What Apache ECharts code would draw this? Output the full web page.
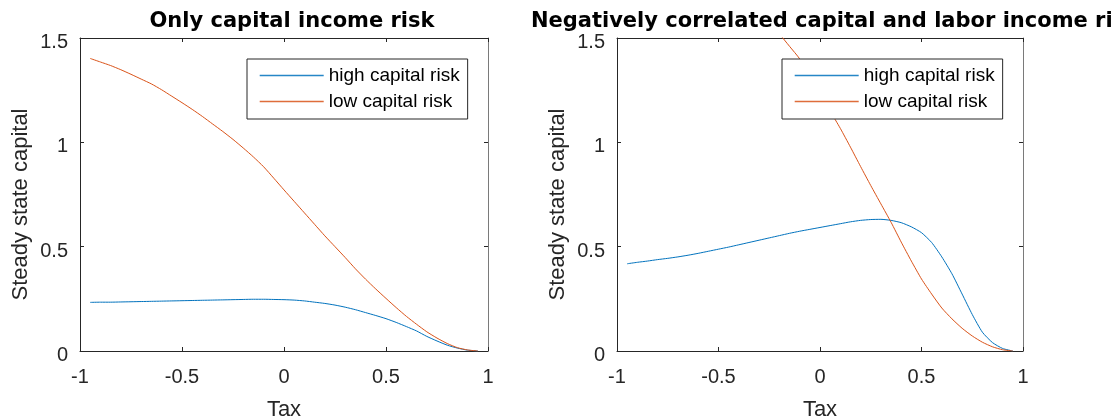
<!DOCTYPE html>
<html><head><meta charset="utf-8">
<script src="https://cdn.jsdelivr.net/npm/echarts@6/dist/echarts.min.js"></script>
<style>html,body{margin:0;padding:0;background:#fff}#c{width:1111px;height:416px}</style>
</head><body><div id="c"></div>
<script>
// ---- data ----
const tax = [-0.95,-0.9,-0.85,-0.8,-0.75,-0.7,-0.65,-0.6,-0.55,-0.5,-0.45,-0.4,-0.35,-0.3,-0.25,-0.2,-0.15,-0.1,-0.05,0,
  0.05,0.1,0.15,0.2,0.25,0.3,0.35,0.4,0.45,0.5,0.55,0.6,0.65,0.7,0.75,0.8,0.85,0.9,0.95];
// Left panel: only capital income risk
const leftHigh = [0.233,0.234,0.234,0.235,0.236,0.237,0.238,0.239,0.240,0.241,0.242,0.243,0.244,0.245,0.246,0.247,0.248,0.248,0.247,0.246,
  0.244,0.240,0.234,0.228,0.220,0.210,0.198,0.184,0.170,0.155,0.137,0.117,0.096,0.070,0.048,0.028,0.014,0.004,0];
const leftLow = [1.402,1.385,1.368,1.348,1.326,1.303,1.280,1.252,1.221,1.190,1.158,1.124,1.088,1.052,1.014,0.973,0.930,0.883,0.828,0.772,
  0.717,0.662,0.607,0.552,0.500,0.448,0.394,0.344,0.297,0.252,0.208,0.166,0.128,0.092,0.062,0.036,0.016,0.005,0];
// Right panel: negatively correlated capital and labor income risk
const rightHigh = [0.418,0.425,0.431,0.438,0.444,0.451,0.459,0.468,0.478,0.488,0.498,0.509,0.520,0.531,0.542,0.553,0.564,0.574,0.583,0.592,
  0.601,0.610,0.619,0.626,0.630,0.631,0.626,0.615,0.595,0.567,0.520,0.451,0.370,0.273,0.175,0.090,0.040,0.012,0];
const rightLow = [null,null,null,null,null,null,null,null,null,null,null,null,null,1.64,1.58,1.52,1.46,1.40,1.315,1.231,
  1.150,1.067,0.977,0.884,0.793,0.705,0.617,0.522,0.431,0.345,0.273,0.206,0.154,0.109,0.072,0.042,0.020,0.006,0];
const seriesNames = ['high capital risk','low capital risk'];
const titles = ['Only capital income risk','Negatively correlated capital and labor income risk'];
const xTickValues = [-1,-0.5,0,0.5,1];
const xTickLabels = ['-1','-0.5','0','0.5','1'];
const yTickValues = [0,0.5,1,1.5];
const yTickLabels = ['0','0.5','1','1.5'];
const xName = 'Tax';
const yName = 'Steady state capital';

// ---- styling ----
const FONT = "'Liberation Sans', Arial, sans-serif";
const AX = '#262626';
const COLORS = ['#0072BD', '#D95319'];
const grids = [
  {left: 80, top: 38, width: 408, height: 313},
  {left: 617, top: 38, width: 406, height: 313}
];
function lab(vals, labs){ return v => { const i = vals.findIndex(t => Math.abs(t - v) < 1e-9); return i >= 0 ? labs[i] : ''; }; }
const lineSt = {show: true, onZero: false, lineStyle: {color: AX, width: 1}};
const tickSt = {show: true, inside: true, length: 4, lineStyle: {color: AX, width: 1}};

const xAxis = [], yAxis = [];
grids.forEach((g, gi) => {
  xAxis.push({type: 'value', gridIndex: gi, position: 'bottom', min: -1, max: 1, interval: 0.5,
    name: xName, nameLocation: 'middle', nameGap: 48,
    nameTextStyle: {fontFamily: FONT, fontSize: 22, color: AX},
    axisLine: lineSt, axisTick: tickSt, splitLine: {show: false},
    axisLabel: {margin: 16, fontFamily: FONT, fontSize: 20, color: AX, showMinLabel: true, showMaxLabel: true,
      formatter: lab(xTickValues, xTickLabels)}});
  xAxis.push({type: 'value', gridIndex: gi, position: 'top', min: -1, max: 1, interval: 0.5,
    axisLine: lineSt, axisTick: tickSt, splitLine: {show: false}, axisLabel: {show: false}});
  yAxis.push({type: 'value', gridIndex: gi, position: 'left', min: 0, max: 1.5, interval: 0.5,
    name: yName, nameLocation: 'middle', nameGap: 48,
    nameTextStyle: {fontFamily: FONT, fontSize: 22, color: AX, padding: [0, 20, 0, 0]},
    axisLine: lineSt, axisTick: tickSt, splitLine: {show: false},
    axisLabel: {margin: 12, fontFamily: FONT, fontSize: 20, color: AX, verticalAlign: 'top', lineHeight: 9,
      showMinLabel: true, showMaxLabel: true, formatter: lab(yTickValues, yTickLabels)}});
  yAxis.push({type: 'value', gridIndex: gi, position: 'right', min: 0, max: 1.5, interval: 0.5,
    axisLine: {show: true, onZero: false, lineStyle: {color: '#7a7a7a', width: 1}},
    axisTick: tickSt, splitLine: {show: false}, axisLabel: {show: false}});
});

function pairs(arr){ return tax.map((t, i) => [t, arr[i] == null ? '-' : arr[i]]); }
function ser(name, arr, gi, color){
  return {type: 'line', name, xAxisIndex: gi * 2, yAxisIndex: gi * 2, data: pairs(arr),
    showSymbol: false, symbol: 'none', clip: true, smooth: 0.2,
    lineStyle: {color, width: 1}, itemStyle: {color}, emphasis: {disabled: true}};
}

function legend(left){
  return {orient: 'vertical', left, top: 59, padding: [7, 8, 8, 12], itemGap: 7,
    itemWidth: 64, itemHeight: 14, selectedMode: false,
    backgroundColor: '#fff', borderColor: AX, borderWidth: 1, borderRadius: 0,
    textStyle: {fontFamily: FONT, fontSize: 19, color: '#000', lineHeight: 19},
    data: seriesNames.map((n, i) => ({name: n,
      lineStyle: {color: COLORS[i], width: 1.4, opacity: 0.85},
      itemStyle: {color: COLORS[i], opacity: 0, borderWidth: 0}}))};
}

const option = {
  animation: false,
  backgroundColor: '#fff',
  title: [
    {text: titles[0], left: 292, top: 11, textAlign: 'center', padding: 0,
      textStyle: {fontFamily: "'DejaVu Sans', sans-serif", fontWeight: 'bold', fontSize: 21, color: '#000'}},
    {text: titles[1], left: 835, top: 11, textAlign: 'center', padding: 0,
      textStyle: {fontFamily: "'DejaVu Sans', sans-serif", fontWeight: 'bold', fontSize: 21, color: '#000'}}
  ],
  grid: grids.map(g => Object.assign({containLabel: false, outerBoundsMode: 'none'}, g)),
  xAxis, yAxis,
  legend: [legend(247), legend(782)],
  series: [
    ser(seriesNames[0], leftHigh, 0, COLORS[0]),
    ser(seriesNames[1], leftLow, 0, COLORS[1]),
    ser(seriesNames[0], rightHigh, 1, COLORS[0]),
    ser(seriesNames[1], rightLow, 1, COLORS[1])
  ]
};
const chart = echarts.init(document.getElementById('c'), null, {renderer: 'canvas'});
chart.setOption(option);
</script></body></html>
